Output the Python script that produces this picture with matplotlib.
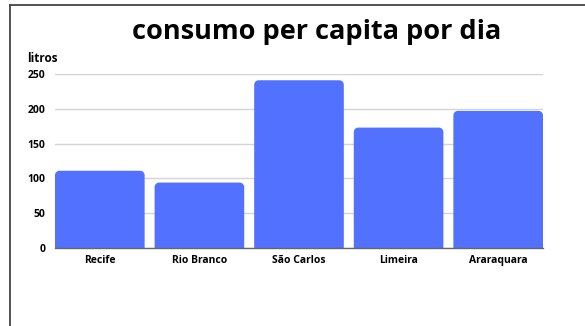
import matplotlib
matplotlib.use("Agg")
import matplotlib.pyplot as plt
from matplotlib.path import Path
from matplotlib.patches import PathPatch
from matplotlib.lines import Line2D

cidades = ["Recife", "Rio Branco", "São Carlos", "Limeira", "Araraquara"]
litros = [111, 94, 241, 173, 197]
yticks = [0, 50, 100, 150, 200, 250]

plt.rcParams["font.family"] = ["Open Sans", "DejaVu Sans"]

W, H, DPI = 585, 326, 100
fig = plt.figure(figsize=(W / DPI, H / DPI), dpi=DPI)
fig.patch.set_facecolor("white")

left, right, base, top = 55, 543, 248, 74
ax = fig.add_axes([left / W, (H - base) / H, (right - left) / W, (base - top) / H])

bar_w = 0.9
bars = ax.bar(range(len(cidades)), litros, width=bar_w, color="#5271ff", zorder=2)
ax.set_xlim(-0.45, len(cidades) - 0.55)
ax.set_ylim(0, 250)

# replace square bars with ones that have rounded top corners
px_x = (right - left) / (len(cidades) - 0.1)
px_y = (base - top) / 250
r = 4.5
rx, ry = r / px_x, r / px_y
k = 0.5523
for b in bars:
    x0, w, h = b.get_x(), b.get_width(), b.get_height()
    x1 = x0 + w
    verts = [
        (x0, 0), (x0, h - ry),
        (x0, h - ry + k * ry), (x0 + rx - k * rx, h), (x0 + rx, h),
        (x1 - rx, h),
        (x1 - rx + k * rx, h), (x1, h - ry + k * ry), (x1, h - ry),
        (x1, 0), (x0, 0),
    ]
    codes = [Path.MOVETO, Path.LINETO,
             Path.CURVE4, Path.CURVE4, Path.CURVE4,
             Path.LINETO,
             Path.CURVE4, Path.CURVE4, Path.CURVE4,
             Path.LINETO, Path.CLOSEPOLY]
    ax.add_patch(PathPatch(Path(verts, codes), facecolor="#5271ff",
                           edgecolor="none", zorder=2))
    b.set_visible(False)

ax.set_yticks(yticks)
ax.set_yticklabels([str(t) for t in yticks], fontsize=7.5, fontweight="bold")
ax.set_xticks(range(len(cidades)))
ax.set_xticklabels(cidades, fontsize=7.5, fontweight="bold")
ax.tick_params(axis="both", length=0)
ax.tick_params(axis="y", pad=7)
ax.tick_params(axis="x", pad=5)
ax.yaxis.grid(True, color="#d4d4d4", linewidth=1)
ax.set_axisbelow(True)
for s in ["top", "right", "left"]:
    ax.spines[s].set_visible(False)
ax.spines["bottom"].set_color("#666666")
ax.spines["bottom"].set_linewidth(1)
ax.spines["bottom"].set_zorder(3)

fig.text(317 / W, 1 - 32 / H, "consumo per capita por dia", ha="center", va="center",
         fontsize=19.5, fontweight="bold", color="black")
fig.text(27 / W, 1 - 59 / H, "litros", ha="left", va="center",
         fontsize=8.5, fontweight="bold", color="black")

# frame lines along the top and left edges
fig.add_artist(Line2D([9.5 / W, 1], [1 - 4.5 / H, 1 - 4.5 / H], color="#444444", linewidth=1.3))
fig.add_artist(Line2D([9.5 / W, 9.5 / W], [0, 1 - 4.5 / H], color="#444444", linewidth=1.3))

fig.savefig("out.png", dpi=DPI, facecolor="white")
